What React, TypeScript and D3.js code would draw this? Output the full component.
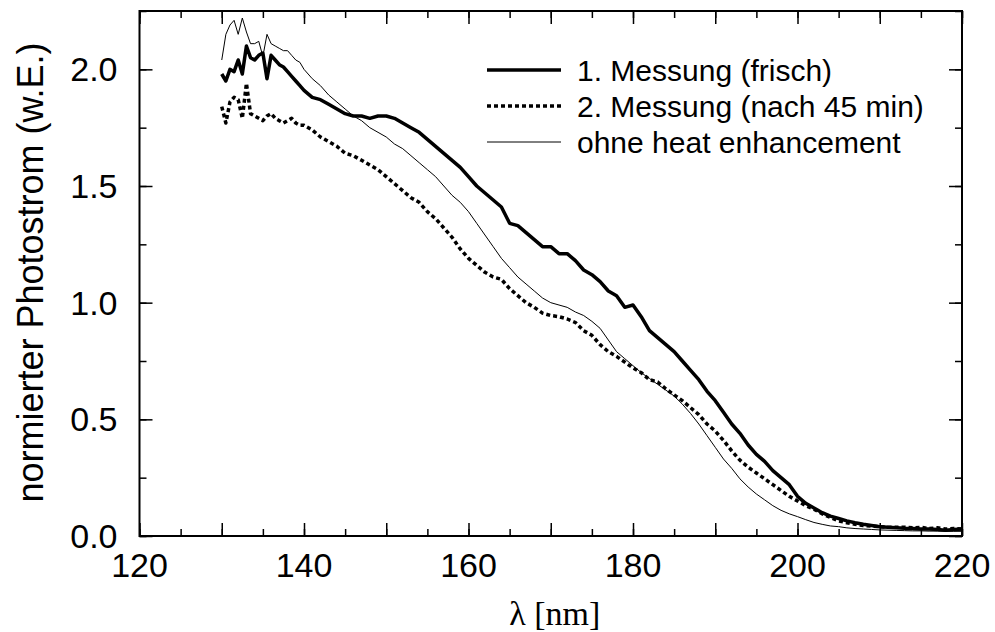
import { useRef, useEffect } from "react";
import { select, scaleLinear, axisBottom, axisTop, axisLeft, axisRight, line, range } from "d3";

const WIDTH = 995;
const HEIGHT = 632;
const margin = { top: 11, right: 33, bottom: 96, left: 139.5 };
const PW = WIDTH - margin.left - margin.right;
const PH = HEIGHT - margin.top - margin.bottom;

// wavelength grid: 0.5 nm steps up to 140, then 1 nm
const lambda = [...range(130, 140, 0.5), ...range(140, 221, 1)];

const messung1 = [
  1.98, 1.95, 2.0, 1.99, 2.04, 1.98, 2.1, 2.05, 2.04, 2.06,
  2.07, 1.96, 2.06, 2.04, 2.02, 2.01, 1.99, 1.97, 1.95, 1.93,
  1.91, 1.88, 1.87, 1.85, 1.83, 1.81, 1.8, 1.8, 1.79, 1.8,
  1.8, 1.79, 1.77, 1.75, 1.73, 1.7, 1.67, 1.64, 1.61, 1.58,
  1.54, 1.5, 1.47, 1.44, 1.41, 1.34, 1.33, 1.3, 1.27, 1.24,
  1.24, 1.21, 1.21, 1.18, 1.14, 1.12, 1.09, 1.05, 1.03, 0.98,
  0.99, 0.94, 0.88, 0.85, 0.82, 0.79, 0.75, 0.71, 0.67, 0.62,
  0.58, 0.53, 0.48, 0.44, 0.39, 0.35, 0.32, 0.28, 0.25, 0.22,
  0.17, 0.14, 0.12, 0.1, 0.085, 0.075, 0.065, 0.057, 0.05, 0.045,
  0.04, 0.037, 0.035, 0.033, 0.032, 0.03, 0.03, 0.028, 0.025, 0.028, 0.03,
];

const messung2 = [
  1.84, 1.77, 1.86, 1.88, 1.87, 1.79, 1.94, 1.81, 1.8, 1.79,
  1.78, 1.8, 1.81, 1.79, 1.78, 1.77, 1.78, 1.79, 1.77, 1.76,
  1.76, 1.74, 1.71, 1.69, 1.67, 1.64, 1.63, 1.61, 1.59, 1.57,
  1.54, 1.51, 1.48, 1.45, 1.43, 1.39, 1.36, 1.32, 1.28, 1.23,
  1.19, 1.16, 1.13, 1.11, 1.1, 1.06, 1.03, 1.0, 0.98, 0.955,
  0.945, 0.94, 0.93, 0.915, 0.88, 0.86, 0.82, 0.79, 0.77, 0.745,
  0.72, 0.7, 0.67, 0.66, 0.63, 0.605, 0.58, 0.55, 0.52, 0.48,
  0.45, 0.41, 0.365, 0.325, 0.295, 0.27, 0.245, 0.22, 0.195, 0.17,
  0.15, 0.13, 0.115, 0.095, 0.08, 0.065, 0.057, 0.05, 0.045, 0.042,
  0.04, 0.038, 0.037, 0.038, 0.035, 0.037, 0.032, 0.035, 0.03, 0.032, 0.03,
];

const ohneHeat = [
  2.04, 2.15, 2.19, 2.21, 2.15, 2.22, 2.16, 2.11, 2.11, 2.12,
  2.055, 2.15, 2.11, 2.1, 2.09, 2.08, 2.08, 2.06, 2.04, 2.03,
  2.0, 1.96, 1.93, 1.89, 1.86, 1.83, 1.8, 1.78, 1.75, 1.73,
  1.71, 1.68, 1.66, 1.63, 1.6, 1.57, 1.54, 1.5, 1.46, 1.43,
  1.39, 1.34, 1.29, 1.24, 1.19, 1.15, 1.11, 1.08, 1.05, 1.02,
  1.0, 0.99, 0.98, 0.96, 0.945, 0.92, 0.89, 0.84, 0.79, 0.76,
  0.73, 0.7, 0.675, 0.65, 0.625, 0.6, 0.565, 0.525, 0.48, 0.43,
  0.38, 0.33, 0.29, 0.245, 0.21, 0.18, 0.155, 0.13, 0.11, 0.095,
  0.083, 0.07, 0.058, 0.05, 0.043, 0.04, 0.035, 0.032, 0.03, 0.028,
  0.026, 0.025, 0.024, 0.023, 0.022, 0.022, 0.021, 0.021, 0.02, 0.02, 0.02,
];

const seriesNames = ["1. Messung (frisch)", "2. Messung (nach 45 min)", "ohne heat enhancement"];
const xTicks = [120, 140, 160, 180, 200, 220];
const yTicks = [0, 0.5, 1, 1.5, 2];

const styles = [
  { width: 3.5, dash: null },
  { width: 3.5, dash: "4,3" },
  { width: 1, dash: null },
];

function App() {
  const svgRef = useRef(null);

  useEffect(() => {
    const svg = select(svgRef.current);
    const chart = svg.select(".chart");

    const x = scaleLinear().domain([120, 220]).range([0, PW]);
    const y = scaleLinear().domain([0, 2.25]).range([PH, 0]);

    const font = "'Liberation Sans', Arial, Helvetica, sans-serif";

    // minor + major ticks on all four sides, pointing inward
    const minorX = range(120, 221, 5);
    const majorX = range(120, 221, 10);
    const minorY = range(0, 2.26, 0.25);
    const majorY = range(0, 2.26, 0.5);

    const sides = [
      { sel: ".x-bottom", ax: axisBottom, sc: x, tr: `translate(0,${PH})` },
      { sel: ".x-top", ax: axisTop, sc: x, tr: "translate(0,0)" },
      { sel: ".y-left", ax: axisLeft, sc: y, tr: "translate(0,0)" },
      { sel: ".y-right", ax: axisRight, sc: y, tr: `translate(${PW},0)` },
    ];
    sides.forEach(({ sel, ax, sc, tr }) => {
      const isX = sc === x;
      const g = chart.select(sel).attr("transform", tr);
      g.select(".minor")
        .call(ax(sc).tickValues(isX ? minorX : minorY).tickSize(-7).tickSizeOuter(0).tickFormat(() => ""))
        .call(a => a.select(".domain").remove());
      g.select(".major")
        .call(ax(sc).tickValues(isX ? majorX : majorY).tickSize(-13).tickSizeOuter(0).tickFormat(() => ""))
        .call(a => a.select(".domain").remove());
      g.selectAll("line").attr("stroke", "#000").attr("stroke-width", 1.5);
    });

    // tick labels
    chart.select(".x-labels")
      .selectAll("text")
      .data(xTicks)
      .join("text")
      .attr("x", d => x(d))
      .attr("y", PH + 41)
      .attr("text-anchor", "middle")
      .style("font-family", font)
      .style("font-size", "34px")
      .text(d => d);

    chart.select(".y-labels")
      .selectAll("text")
      .data(yTicks)
      .join("text")
      .attr("x", -22)
      .attr("y", d => y(d) + 12)
      .attr("text-anchor", "end")
      .style("font-family", font)
      .style("font-size", "34px")
      .text(d => d.toFixed(1));

    // curves
    const allSeries = [messung1, messung2, ohneHeat];
    const path = line()
      .x((_, i) => x(lambda[i]))
      .y(d => y(d));
    chart.select(".lines")
      .selectAll("path")
      .data(allSeries)
      .join("path")
      .attr("d", d => path(d))
      .attr("fill", "none")
      .attr("stroke", "#000")
      .attr("stroke-linejoin", "round")
      .attr("stroke-width", (_, i) => styles[i].width)
      .attr("stroke-dasharray", (_, i) => styles[i].dash);

    // frame
    chart.select(".frame")
      .attr("width", PW)
      .attr("height", PH)
      .attr("fill", "none")
      .attr("stroke", "#000")
      .attr("stroke-width", 2);

    // axis titles
    chart.select(".x-title")
      .attr("x", PW / 2 + 4)
      .attr("y", PH + 89)
      .attr("text-anchor", "middle")
      .style("font-family", "'Liberation Serif', 'Times New Roman', serif")
      .style("font-size", "34px")
      .text("λ [nm]");

    chart.select(".y-title")
      .attr("transform", `translate(${-margin.left + 43},${PH / 2 - 1}) rotate(-90)`)
      .attr("text-anchor", "middle")
      .style("font-family", font)
      .style("font-size", "36px")
      .text("normierter Photostrom (w.E.)");

    // legend
    const legend = chart.select(".legend");
    legend.selectAll("line")
      .data(seriesNames)
      .join("line")
      .attr("x1", 487 - margin.left)
      .attr("x2", 561 - margin.left)
      .attr("y1", (_, i) => 70 - margin.top + i * 36)
      .attr("y2", (_, i) => 70 - margin.top + i * 36)
      .attr("stroke", "#000")
      .attr("stroke-width", (_, i) => styles[i].width)
      .attr("stroke-dasharray", (_, i) => styles[i].dash);
    legend.selectAll("text")
      .data(seriesNames)
      .join("text")
      .attr("x", 577 - margin.left)
      .attr("y", (_, i) => 81 - margin.top + i * 36)
      .style("font-family", font)
      .style("font-size", "30px")
      .text(d => d);
  }, []);

  return (
    <svg
      ref={svgRef}
      width={WIDTH}
      height={HEIGHT}
      style={{ position: "absolute", left: 0, top: 0, background: "#fff" }}
    >
      <g className="chart" transform={`translate(${margin.left},${margin.top})`}>
        <g className="lines" />
        <g className="x-bottom"><g className="minor" /><g className="major" /></g>
        <g className="x-top"><g className="minor" /><g className="major" /></g>
        <g className="y-left"><g className="minor" /><g className="major" /></g>
        <g className="y-right"><g className="minor" /><g className="major" /></g>
        <rect className="frame" />
        <g className="x-labels" />
        <g className="y-labels" />
        <text className="x-title" />
        <text className="y-title" />
        <g className="legend" />
      </g>
    </svg>
  );
}

export default App;
